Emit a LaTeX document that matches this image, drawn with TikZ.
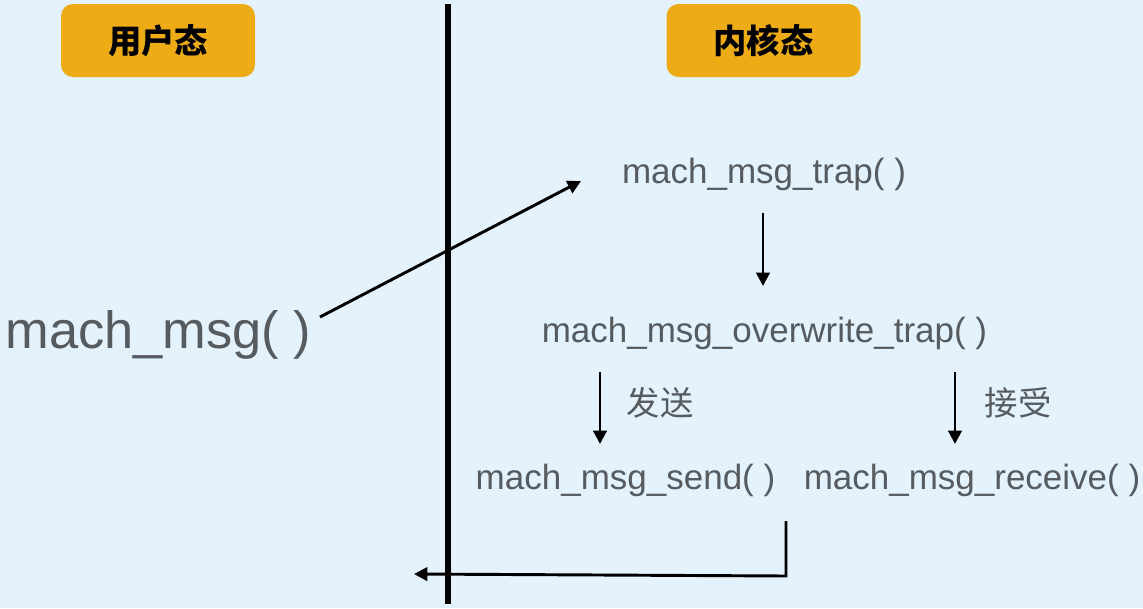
\documentclass[tikz,border=0pt]{standalone}
\usepackage{fontspec}
\setmainfont{Liberation Sans}
\newfontfamily\cjk{Noto Sans CJK SC}
\usetikzlibrary{arrows.meta}
\definecolor{bgc}{RGB}{227,242,253}
\definecolor{badgec}{RGB}{237,172,22}
\definecolor{txtc}{RGB}{86,91,96}
\tikzset{
  badge/.style={fill=badgec, rounded corners=9pt, minimum width=145.5pt, minimum height=54.75pt, inner sep=0pt, font=\cjk\bfseries\fontsize{25}{28}\selectfont, text=black},
  fn/.style={inner sep=0pt, text=txtc, font=\fontsize{26.25}{30}\selectfont},
  bigfn/.style={inner sep=0pt, text=txtc, font=\fontsize{39.3}{44}\selectfont},
  lbl/.style={inner sep=0pt, text=txtc, font=\cjk\fontsize{25}{28}\selectfont},
  arr/.style={line width=2.2pt, -{Triangle[length=10pt,width=10pt]}}
}
\begin{document}
\begin{tikzpicture}[x=0.75pt,y=-0.75pt]
\fill[bgc] (0,0) rectangle (1143,608);
\useasboundingbox (0,0) rectangle (1143,608);
\node[badge] (ub) at (158,40.5) {用户态};
\node[badge] (kb) at (763.5,40.5) {内核态};
\draw[line width=3.8pt] (448,4) coordinate (vt) -- (448,604) coordinate (vb);
\node[bigfn] (mm) at (158.5,335) {mach\_msg( )};
\node[fn] (trap) at (764,174) {mach\_msg\_trap( )};
\node[fn] (ow) at (764.5,333) {mach\_msg\_overwrite\_trap( )};
\node[fn] (send) at (625.5,480) {mach\_msg\_send( )};
\node[fn] (recv) at (972,480) {mach\_msg\_receive( )};
\node[lbl] (fs) at (660,403) {发送};
\node[lbl] (js) at (1018,403) {接受};
\coordinate (a1) at (320,317);
\coordinate (a2) at (581,181);
\draw[arr] (a1) -- (a2);
\coordinate (b1) at (763,213);
\coordinate (b2) at (763,286);
\draw[arr] (b1) -- (b2);
\coordinate (c1) at (600,372);
\coordinate (c2) at (600,444);
\draw[arr] (c1) -- (c2);
\coordinate (d1) at (955,372);
\coordinate (d2) at (955,444);
\draw[arr] (d1) -- (d2);
\coordinate (e1) at (786,521);
\coordinate (e2) at (786,576);
\coordinate (e3) at (414,574);
\draw[arr] (e1) -- (e2) -- (e3);
\end{tikzpicture}
\end{document}
